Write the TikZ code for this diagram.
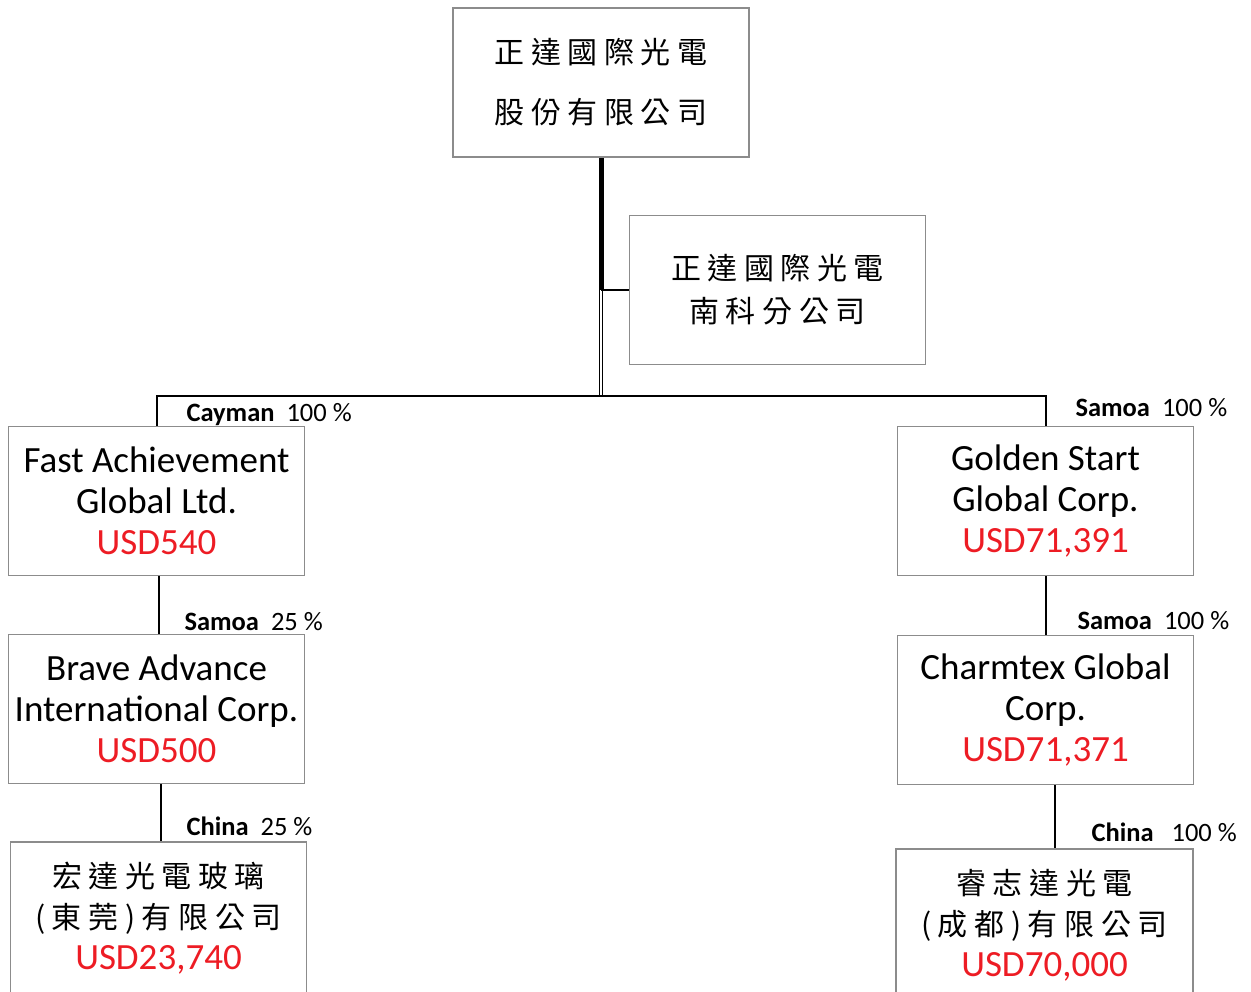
\documentclass[tikz,border=0pt]{standalone}
\usepackage{fontspec}
\setmainfont{Carlito}
\newfontfamily\cjkfont[LetterSpace=22]{Noto Sans CJK TC}
\definecolor{boxgray}{RGB}{140,140,140}
\definecolor{usdred}{RGB}{237,28,36}
\newcommand\usd[1]{\textcolor{usdred}{#1}}
\begin{document}
\begin{tikzpicture}[x=1pt, y=-1pt,
    entity/.style={draw=boxgray, line width=1.6pt, minimum width=296pt, minimum height=149pt,
        inner sep=0pt, align=center, font=\fontsize{37}{41}\selectfont},
    link/.style={line width=2pt},
    tag/.style={anchor=base west, font=\fontsize{26.5}{30}\selectfont}]
    \clip (0,0) rectangle (1251,992);

    % Parent and branch office
    \node[entity, font=\cjkfont\fontsize{30}{42}\selectfont] (parent) at (601,82.5)
        {正達國際光電\\[18pt]股份有限公司};
    \node[entity, font=\cjkfont\fontsize{30}{43}\selectfont] (branch) at (777.5,290)
        {正達國際光電\\南科分公司};
    \coordinate (split) at (601,396);

    % Left column
    \node[entity] (fast) at (156.5,501) {Fast Achievement\\Global Ltd.\\\usd{USD540}};
    \node[entity] (brave) at (156.5,709) {Brave Advance\\International Corp.\\\usd{USD500}};
    \node[entity, minimum height=152pt] (hongda) at (158.5,918)
        {{\cjkfont\fontsize{30}{42}\selectfont 宏達光電玻璃}\\{\cjkfont\fontsize{30}{42}\selectfont (東莞)有限公司}\\\usd{USD23,740}};

    % Right column
    \node[entity] (golden) at (1045.5,501) {Golden Start\\Global Corp.\\\usd{USD71,391}};
    \node[entity] (charm) at (1045.5,710) {Charmtex Global\\Corp.\\\usd{USD71,371}};
    \node[entity, minimum height=152pt, minimum width=297pt] (ruizhi) at (1044.5,925)
        {{\cjkfont\fontsize{30}{42}\selectfont 睿志達光電}\\{\cjkfont\fontsize{30}{42}\selectfont (成都)有限公司}\\\usd{USD70,000}};

    % Connectors
    \draw[line width=5pt] (parent.south) -- (parent.south |- branch.west);
    \draw[line width=1pt, double, double distance=1.5pt] (parent.south |- branch.west) -- (split);
    \draw[link] (parent.south |- branch.west) -- (branch.west);
    \draw[link] (fast.north) |- (split) -| (golden.north);
    \draw[link] ([xshift=2pt]fast.south) -- ([xshift=2pt]brave.north);
    \draw[link] ([xshift=2pt]hongda.north |- brave.south) -- ([xshift=2pt]hongda.north);
    \draw[link] (golden.south) -- (charm.north);
    \draw[link] ([xshift=10pt]ruizhi.north |- charm.south) -- ([xshift=10pt]ruizhi.north);

    % Ownership tags
    \node[tag] (tcayman) at (183,421) {\textbf{Cayman}\ \ 100 \%};
    \node[tag] (tsamoaA) at (1072,417) {\textbf{Samoa}\ \ 100 \%};
    \node[tag] (tsamoaB) at (181,630) {\textbf{Samoa}\ \ 25 \%};
    \node[tag] (tsamoaC) at (1074,629) {\textbf{Samoa}\ \ 100 \%};
    \node[tag] (tchinaA) at (183,835) {\textbf{China}\ \ 25 \%};
    \node[tag] (tchinaB) at (1088,841) {\textbf{China}\ \ \ 100 \%};
\end{tikzpicture}
\end{document}
